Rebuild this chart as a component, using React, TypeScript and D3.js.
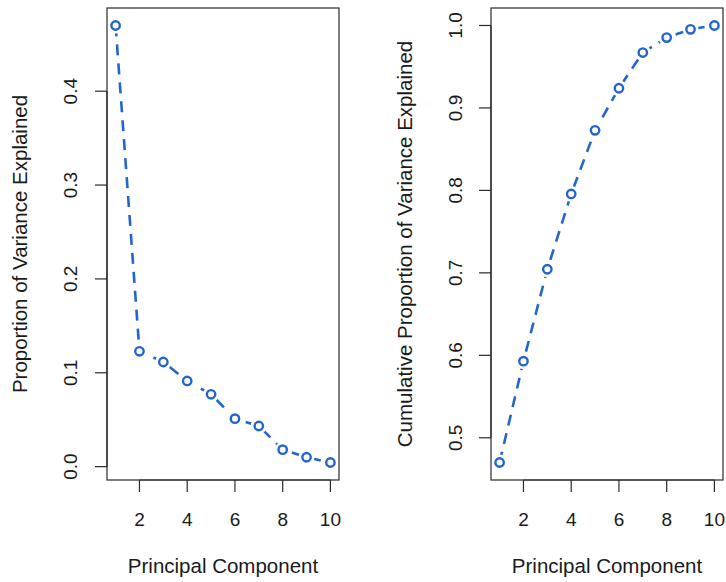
import React from "react";
import * as d3 from "d3";

const components = [1, 2, 3, 4, 5, 6, 7, 8, 9, 10];
const pve = [0.470, 0.1229, 0.1115, 0.0913, 0.0771, 0.0511, 0.0433, 0.0181, 0.0100, 0.0044];
const cumPve = [0.470, 0.5929, 0.7044, 0.7957, 0.8728, 0.9239, 0.9672, 0.9853, 0.9953, 1.000];
const xTicks = [2, 4, 6, 8, 10];
const leftYTicks = [0.0, 0.1, 0.2, 0.3, 0.4];
const rightYTicks = [0.5, 0.6, 0.7, 0.8, 0.9, 1.0];
const xTitle = "Principal Component";
const leftYTitle = "Proportion of Variance Explained";
const rightYTitle = "Cumulative Proportion of Variance Explained";

const W = 726;
const H = 582;
const BLUE = "#2266cc";
const AXIS = "#2a2a2a";
const TEXT = "#1a1a1a";
const FONT = "'Liberation Sans', Arial, Helvetica, sans-serif";

function expand(ext: [number, number]): [number, number] {
  const r = ext[1] - ext[0];
  return [ext[0] - 0.04 * r, ext[1] + 0.04 * r];
}

type PanelProps = {
  id: string;
  values: number[];
  yTicks: number[];
  yTitle: string;
  left: number;
  right: number;
  yTickLabelX: number;
  yTitleX: number;
};

function Panel({ id, values, yTicks, yTitle, left, right, yTickLabelX, yTitleX }: PanelProps) {
  const top = 8;
  const bottom = 480;
  const x = d3.scaleLinear().domain(expand(d3.extent(components) as [number, number])).range([left, right]);
  const y = d3.scaleLinear().domain(expand(d3.extent(values) as [number, number])).range([bottom, top]);
  const pts = components.map((c, i) => [x(c), y(values[i])] as [number, number]);
  const line = d3.line()(pts) || "";
  const tickLen = 12;
  const fmt = d3.format(".1f");
  const cy = (top + bottom) / 2;
  const cx = (left + right) / 2;
  return (
    <g>
      <defs>
        <mask id={`gap-${id}`} maskUnits="userSpaceOnUse" x={0} y={0} width={W} height={H}>
          <rect x={0} y={0} width={W} height={H} fill="white" />
          {pts.map((p, i) => (
            <circle key={i} cx={p[0]} cy={p[1]} r={8} fill="black" />
          ))}
        </mask>
      </defs>
      <path
        d={line}
        fill="none"
        stroke={BLUE}
        strokeWidth={2.6}
        strokeDasharray="11,8"
        mask={`url(#gap-${id})`}
      />
      {pts.map((p, i) => (
        <circle key={i} cx={p[0]} cy={p[1]} r={4.2} fill="none" stroke={BLUE} strokeWidth={2.4} />
      ))}
      <rect x={left} y={top} width={right - left} height={bottom - top} fill="none" stroke={AXIS} strokeWidth={1.2} />
      {/* x axis */}
      <line x1={x(xTicks[0])} x2={x(xTicks[xTicks.length - 1])} y1={bottom} y2={bottom} stroke={AXIS} strokeWidth={1.2} />
      {xTicks.map((t) => (
        <g key={t}>
          <line x1={x(t)} x2={x(t)} y1={bottom} y2={bottom + tickLen} stroke={AXIS} strokeWidth={1.2} />
          <text x={x(t)} y={526} textAnchor="middle" fontSize={19} fill={TEXT} fontFamily={FONT}>
            {t}
          </text>
        </g>
      ))}
      {/* y axis */}
      <line x1={left} x2={left} y1={y(yTicks[0])} y2={y(yTicks[yTicks.length - 1])} stroke={AXIS} strokeWidth={1.2} />
      {yTicks.map((t) => (
        <g key={t}>
          <line x1={left - tickLen} x2={left} y1={y(t)} y2={y(t)} stroke={AXIS} strokeWidth={1.2} />
          <text
            transform={`translate(${yTickLabelX},${y(t)}) rotate(-90)`}
            textAnchor="middle"
            fontSize={19}
            fill={TEXT}
            fontFamily={FONT}
          >
            {fmt(t)}
          </text>
        </g>
      ))}
      <text x={cx} y={573} textAnchor="middle" fontSize={20.5} fill={TEXT} fontFamily={FONT}>
        {xTitle}
      </text>
      <text
        transform={`translate(${yTitleX},${cy}) rotate(-90)`}
        textAnchor="middle"
        fontSize={20.5}
        fill={TEXT}
        fontFamily={FONT}
      >
        {yTitle}
      </text>
    </g>
  );
}

export default function App() {
  return (
    <div style={{ position: "absolute", left: 0, top: 0, width: W, height: H, background: "white" }}>
      <svg width={W} height={H} viewBox={`0 0 ${W} ${H}`} style={{ display: "block" }}>
        <rect x={0} y={0} width={W} height={H} fill="white" />
        <Panel
          id="left"
          values={pve}
          yTicks={leftYTicks}
          yTitle={leftYTitle}
          left={107}
          right={339}
          yTickLabelX={77}
          yTitleX={27}
        />
        <Panel
          id="right"
          values={cumPve}
          yTicks={rightYTicks}
          yTitle={rightYTitle}
          left={491}
          right={723}
          yTickLabelX={462}
          yTitleX={412}
        />
      </svg>
    </div>
  );
}
